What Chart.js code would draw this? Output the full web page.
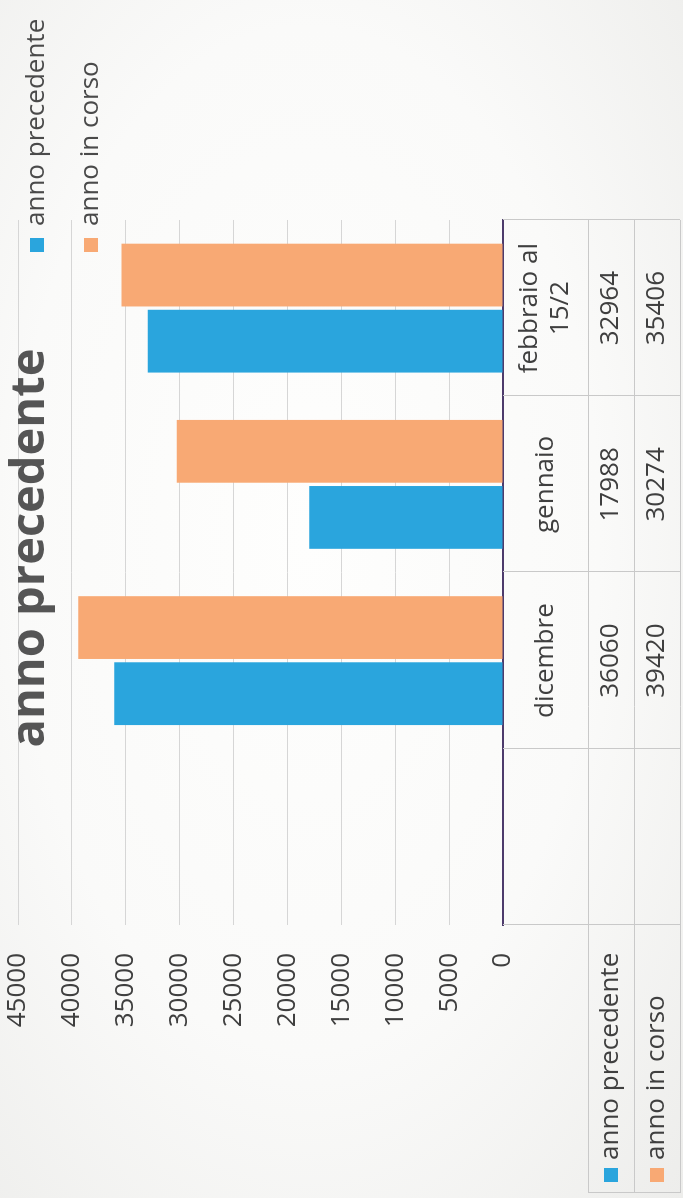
<!DOCTYPE html>
<html lang="it">
<head>
<meta charset="UTF-8">
<title>anno precedente</title>
<script src="https://cdn.jsdelivr.net/npm/chart.js@4.4.1/dist/chart.umd.min.js"></script>
<style>
    html, body { margin: 0; padding: 0; }
    body { width: 683px; height: 1198px; overflow: hidden; background: #eeeeeb; position: relative; }
    /* the chart is drawn upright and then turned, like the photo */
    #wrap {
        position: absolute; left: 0; top: 0;
        width: 1198px; height: 683px;
        transform-origin: 0 0;
        transform: rotate(-90deg) translateX(-1198px);
        background: radial-gradient(ellipse at 55% 45%, #fefefd 0%, #fafaf9 55%, #ededeb 100%);
    }
</style>
</head>
<body>
<div id="wrap">
    <canvas id="chart" width="1198" height="683"></canvas>
</div>
<script>
const categories = ['', 'dicembre', 'gennaio', ['febbraio al', '15/2']];
const seriesNames = ['anno precedente', 'anno in corso'];
const annoPrecedente = [null, 36060, 17988, 32964];
const annoInCorso = [null, 39420, 30274, 35406];
const yTicks = [0, 5000, 10000, 15000, 20000, 25000, 30000, 35000, 40000, 45000];
const chartTitle = 'anno precedente';

const BLUE = '#2aa5dd';
const ORANGE = '#f8a974';
const FONT = '"Open Sans", "DejaVu Sans", sans-serif';
const TEXT = '#3f3f3f';
const LINE = '#c9c9c9';

// title + legend sit on top of the plot, data table under the axis
const overlayPlugin = {
    id: 'overlay',
    afterDraw(chart) {
        const ctx = chart.ctx;
        const area = chart.chartArea;
        const x = chart.scales.x;
        const slot = (area.right - area.left) / categories.length;
        const top = area.bottom;
        const headH = 85, rowH = 46, rowLeft = 5;
        const r1 = top + headH, r2 = r1 + rowH, r3 = r2 + rowH;
        const series = [annoPrecedente, annoInCorso];
        const colors = [BLUE, ORANGE];

        ctx.save();

        // title
        ctx.fillStyle = '#555555';
        ctx.font = 'bold 47px ' + FONT;
        ctx.textAlign = 'center';
        ctx.textBaseline = 'middle';
        ctx.fillText(chartTitle, 650, 31);

        // legend (top right, one item per line)
        ctx.font = '26px ' + FONT;
        ctx.textAlign = 'left';
        seriesNames.forEach((name, i) => {
            const cy = 37 + i * 54;
            ctx.fillStyle = colors[i];
            ctx.fillRect(946, cy - 7, 14, 14);
            ctx.fillStyle = '#4a4a4a';
            ctx.fillText(name, 972, cy);
        });

        // table grid
        ctx.strokeStyle = LINE;
        ctx.lineWidth = 1;
        ctx.beginPath();
        [r1, r2, r3].forEach(y => {
            ctx.moveTo(rowLeft, y + 0.5);
            ctx.lineTo(area.right, y + 0.5);
        });
        for (let i = 0; i <= categories.length; i++) {
            const px = Math.round(area.left + i * slot) + 0.5;
            ctx.moveTo(px, top);
            ctx.lineTo(px, r3);
        }
        ctx.moveTo(rowLeft + 0.5, r1);
        ctx.lineTo(rowLeft + 0.5, r3);
        ctx.stroke();

        // category names
        ctx.fillStyle = TEXT;
        ctx.font = '26px ' + FONT;
        ctx.textAlign = 'center';
        categories.forEach((c, i) => {
            const cx = x.getPixelForValue(i);
            const lines = Array.isArray(c) ? c : [c];
            lines.forEach((t, j) => {
                ctx.fillText(t, cx, top + headH / 2 + (j - (lines.length - 1) / 2) * 31);
            });
        });

        // values
        series.forEach((vals, s) => {
            const cy = r1 + rowH / 2 + s * rowH;
            vals.forEach((v, i) => {
                if (v == null) return;
                ctx.fillText(String(v), x.getPixelForValue(i), cy);
            });
        });

        // row headers with keys
        ctx.textAlign = 'left';
        seriesNames.forEach((name, s) => {
            const cy = r1 + rowH / 2 + s * rowH;
            ctx.fillStyle = colors[s];
            ctx.fillRect(16, cy - 7, 14, 14);
            ctx.fillStyle = TEXT;
            ctx.fillText(name, 38, cy);
        });

        ctx.restore();
    }
};

new Chart(document.getElementById('chart'), {
    type: 'bar',
    data: {
        labels: categories,
        datasets: [
            { label: seriesNames[0], data: annoPrecedente, backgroundColor: BLUE },
            { label: seriesNames[1], data: annoInCorso, backgroundColor: ORANGE }
        ]
    },
    options: {
        responsive: false,
        animation: false,
        events: [],
        layout: { padding: { top: 18, right: 220, bottom: 0, left: 0 } },
        datasets: { bar: { categoryPercentage: 0.75, barPercentage: 0.95, borderWidth: 0 } },
        plugins: { legend: { display: false }, title: { display: false }, tooltip: { enabled: false } },
        scales: {
            x: {
                grid: { display: false },
                border: { color: '#4d3b6c', width: 2 },
                ticks: { display: false },
                afterFit: s => { s.height = 180; }
            },
            y: {
                min: 0,
                max: 45000,
                afterBuildTicks: s => { s.ticks = yTicks.map(v => ({ value: v })); },
                grid: { color: '#d6d6d6', drawTicks: false },
                border: { display: false },
                ticks: {
                    padding: 28,
                    color: TEXT,
                    font: { family: FONT, size: 26 },
                    callback: v => String(v)
                },
                afterFit: s => {
                    s.width = 273;
                    s.paddingTop = 0;
                    s.paddingBottom = 0;
                }
            }
        }
    },
    plugins: [overlayPlugin]
});
</script>
</body>
</html>
